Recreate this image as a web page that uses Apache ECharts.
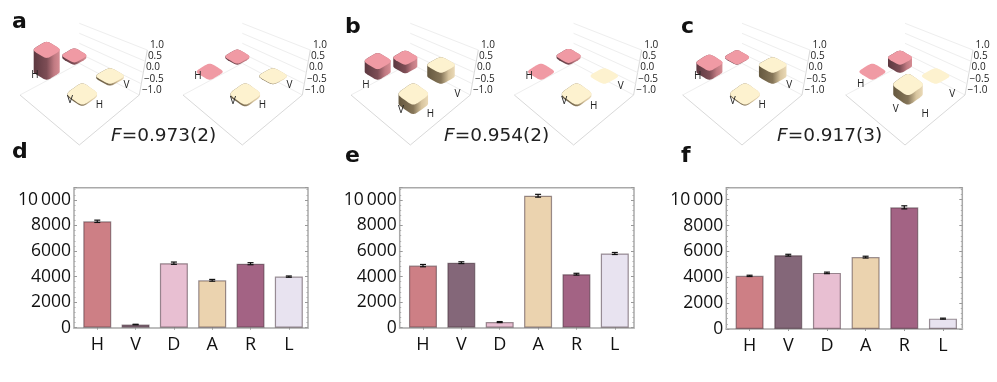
<!DOCTYPE html>
<html>
<head>
<meta charset="utf-8">
<style>
  html, body { margin: 0; background: #fff; }
  #chart { width: 997px; height: 382px; }
</style>
</head>
<body>
<div id="chart"></div>
<script src="https://cdn.jsdelivr.net/npm/echarts@6/dist/echarts.min.js"></script>
<script>
const basis = ['H', 'V', 'D', 'A', 'R', 'L']
const basisColors = ['#cd7f85', '#846779', '#e8bfd2', '#ebd3af', '#a36384', '#e8e3f0']

// measured counts, one list per bar panel
const countsD = [8330, 250, 5050, 3710, 5010, 4000]
const errorsD = [90, 20, 90, 70, 80, 50]
const countsE = [4860, 5090, 440, 10330, 4190, 5810]
const errorsE = [90, 70, 40, 110, 70, 80]
const countsF = [4110, 5710, 4340, 5560, 9410, 800]
const errorsF = [50, 70, 60, 70, 120, 40]

// density matrix elements, drawn back to front: HV, HH, VH, VV
const rhoReA = [0.1, 0.97, -0.08, -0.06]
const rhoImA = [0.05, 0, -0.02, -0.08]
const rhoReB = [-0.38, 0.47, 0.49, -0.42]
const rhoImB = [0.08, 0, 0, -0.08]
const rhoReC = [0.02, 0.4, 0.49, -0.05]
const rhoImC = [-0.36, 0, 0, 0.42]

const fidelities = ['0.973(2)', '0.954(2)', '0.917(3)']
const zTicks = [1, 0.5, 0, -0.5, -1]

const tickFont = '"Open Sans", sans-serif'

// 3d panels: all share one floor shape, shifted sideways by dx
const floor = { left: [20, 95], front: [79.3, 145], right: [139.3, 95], back: [79.3, 63.3] }
const cellCentres = [[74.3, 57.7], [46.7, 71.7], [110, 76], [82.3, 94]] // at z = 0, same order as rho lists
const cellSizes = [[24, 14], [26, 16], [27.5, 15.5], [29.5, 21]]
const cellLabels = [['H', 35, 76], ['V', 126.5, 85.5], ['V', 70, 101], ['H', 99.5, 105.5]]
const panels3d = [
  { dx: 0, rho: rhoReA, drop: -0.5 },
  { dx: 163, rho: rhoImA, drop: 0 },
  { dx: 331, rho: rhoReB, drop: 9 },
  { dx: 494.3, rho: rhoImB, drop: 0.5 },
  { dx: 662.7, rho: rhoReC, drop: 0 },
  { dx: 825.7, rho: rhoImC, drop: 8.5 }
]
const pinkSide = ['#5c3840', '#7d4d55', '#c07a82', '#d68c93']
const creamSide = ['#65583f', '#857558', '#d8c59f', '#ead9b6']

// rounded rhombus around the cell centre, lifted by z
function roundedTop (cell, dx, lift) {
  const pts = []
  const wx = cellSizes[cell][0] / 2 / 1.74
  const wy = cellSizes[cell][1] / 2 / 1.74
  for (let i = 0; i < 64; i++) {
    const a = i / 64 * Math.PI * 2
    const c = Math.cos(a)
    const n = Math.sin(a)
    const u = Math.sign(c) * Math.pow(Math.abs(c), 0.4)
    const v = Math.sign(n) * Math.pow(Math.abs(n), 0.4)
    pts.push([cellCentres[cell][0] + dx + (u - v) * wx, cellCentres[cell][1] - lift + (u + v) * wy])
  }
  return pts
}

function hull (points) {
  const pts = points.slice().sort((a, b) => a[0] - b[0] || a[1] - b[1])
  const half = list => {
    const out = []
    list.forEach(p => {
      while (out.length > 1) {
        const a = out[out.length - 2]
        const b = out[out.length - 1]
        if ((b[0] - a[0]) * (p[1] - a[1]) - (b[1] - a[1]) * (p[0] - a[0]) > 0) break
        out.pop()
      }
      out.push(p)
    })
    out.pop()
    return out
  }
  return half(pts).concat(half(pts.slice().reverse()))
}

function sideFill (colors) {
  return {
    type: 'linear', x: 0, y: 0, x2: 1, y2: 0,
    colorStops: [
      { offset: 0, color: colors[0] },
      { offset: 0.5, color: colors[1] },
      { offset: 0.78, color: colors[2] },
      { offset: 1, color: colors[3] }
    ]
  }
}

function panelSeries (panel, gridIndex) {
  const dx = panel.dx
  const shift = p => [p[0] + dx, p[1]]
  const frame = {
    type: 'custom',
    xAxisIndex: gridIndex,
    yAxisIndex: gridIndex,
    silent: true,
    clip: false,
    data: zTicks,
    renderItem (params, api) {
      const z = api.value(1)
      const y = api.coord([0, z])[1]
      const x = floor.right[0] + (z + 1) * 4 + dx
      const backY = floor.back[1] - (z + 1) * 20
      const children = []
      if (params.dataIndex === 0) {
        const top = api.coord([0, 1])[1]
        children.push({
          type: 'polyline',
          shape: { points: [shift(floor.left), shift(floor.back), shift(floor.right)] },
          style: { stroke: '#eeeeee', lineWidth: 1, fill: null }
        }, {
          type: 'polyline',
          shape: { points: [shift(floor.left), shift(floor.front), shift(floor.right), [floor.right[0] + 8 + dx, top]] },
          style: { stroke: '#d9d9d9', lineWidth: 1, fill: null }
        })
      }
      if (z > -1) {
        children.push({
          type: 'line',
          shape: { x1: floor.back[0] + dx, y1: backY, x2: x, y2: y },
          style: { stroke: '#eeeeee', lineWidth: 1 }
        })
      }
      children.push({
        type: 'text',
        style: {
          x: x + 2.6,
          y: y - 5,
          text: z.toFixed(1).replace('-', '\u2212'),
          font: '10px ' + tickFont,
          fill: '#222',
          align: 'left',
          verticalAlign: 'middle'
        }
      })
      return { type: 'group', children }
    }
  }
  const bars = {
    type: 'custom',
    xAxisIndex: gridIndex,
    yAxisIndex: gridIndex,
    silent: true,
    clip: false,
    data: panel.rho,
    renderItem (params, api) {
      const cell = params.dataIndex
      const z = api.value(1)
      const unit = api.coord([0, 0])[1] - api.coord([0, 1])[1]
      const pink = cell < 2
      const topPts = roundedTop(cell, dx, Math.max(z, 0) * unit)
      const lowPts = roundedTop(cell, dx, Math.min(z, 0) * unit)
      const children = []
      if (z !== 0) {
        children.push({
          type: 'polygon',
          shape: { points: hull(topPts.concat(lowPts)) },
          style: { fill: sideFill(pink ? pinkSide : creamSide) }
        })
      }
      children.push({
        type: 'polygon',
        shape: { points: topPts },
        style: { fill: pink ? '#f09aa4' : '#fdf2cf' }
      })
      return { type: 'group', children }
    }
  }
  const labels = {
    type: 'custom',
    xAxisIndex: gridIndex,
    yAxisIndex: gridIndex,
    silent: true,
    clip: false,
    data: cellLabels.map(d => d[0]),
    renderItem (params) {
      const item = cellLabels[params.dataIndex]
      return {
        type: 'text',
        style: {
          x: item[1] + dx,
          y: item[2] + panel.drop,
          text: item[0],
          font: '10px ' + tickFont,
          fill: '#222',
          align: 'center',
          verticalAlign: 'middle'
        }
      }
    }
  }
  return [frame, bars, labels]
}

function barSeries (counts, errors, axisIndex) {
  return [{
    type: 'bar',
    xAxisIndex: axisIndex,
    yAxisIndex: axisIndex,
    barWidth: 28,
    silent: true,
    data: counts.map((v, i) => ({
      value: [i + 1, v],
      itemStyle: { color: basisColors[i], borderColor: 'rgba(60,40,50,0.5)', borderWidth: 1.2 }
    }))
  }, {
    type: 'custom',
    xAxisIndex: axisIndex,
    yAxisIndex: axisIndex,
    silent: true,
    z: 5,
    data: counts.map((v, i) => [i + 1, v, errors[i]]),
    renderItem (params, api) {
      const x = api.value(0)
      const v = api.value(1)
      const e = api.value(2)
      const hi = api.coord([x, v + e])
      const lo = api.coord([x, v - e])
      const style = { stroke: '#111', lineWidth: 1.2 }
      return {
        type: 'group',
        children: [
          { type: 'line', shape: { x1: hi[0], y1: hi[1], x2: lo[0], y2: lo[1] }, style },
          { type: 'line', shape: { x1: hi[0] - 3, y1: hi[1], x2: hi[0] + 3, y2: hi[1] }, style },
          { type: 'line', shape: { x1: lo[0] - 3, y1: lo[1], x2: lo[0] + 3, y2: lo[1] }, style }
        ]
      }
    }
  }]
}

const grids = []
const xAxes = []
const yAxes = []
const seriesList = []

panels3d.forEach((panel, i) => {
  grids.push({ left: panel.dx + 20, width: 120, top: 50, height: 45 })
  xAxes.push({ gridIndex: i, type: 'value', min: 0, max: 1, show: false })
  yAxes.push({ gridIndex: i, type: 'value', min: -1, max: 1, show: false })
  seriesList.push(...panelSeries(panel, i))
})

// bar panels, each grid also carries a mirror axis pair for the ticks on the top and right
const barPanels = [
  { left: 74, width: 234, top: 187.7, height: 140, yMax: 10960, counts: countsD, errors: errorsD },
  { left: 399.7, width: 234.3, top: 187.7, height: 140, yMax: 10960, counts: countsE, errors: errorsE },
  { left: 726.3, width: 236, top: 187.7, height: 141.3, yMax: 10930, counts: countsF, errors: errorsF }
]
const centres = basis.map((_, i) => i + 1)

barPanels.forEach(p => {
  const gridIndex = grids.length
  grids.push({
    left: p.left, width: p.width, top: p.top, height: p.height,
    show: true, borderColor: '#a9a9a9', borderWidth: 1.5, backgroundColor: '#fff'
  })
  const axisIndex = xAxes.length
  const xRange = { min: 1 - 23.3 / (p.width / 6.1), max: 6.5 }
  const xCommon = { gridIndex, type: 'value', ...xRange, splitLine: { show: false } }
  xAxes.push({
    ...xCommon,
    position: 'bottom',
    axisLine: { show: true, onZero: false, lineStyle: { color: '#bdbdbd', width: 2 } },
    axisTick: { show: false },
    axisLabel: {
      customValues: centres,
      formatter: v => basis[v - 1],
      margin: 8,
      fontFamily: tickFont,
      fontSize: 18,
      color: '#111'
    }
  }, {
    ...xCommon,
    position: 'top',
    axisLine: { show: false },
    axisTick: { show: true, customValues: centres, inside: true, length: 2, lineStyle: { color: '#999' } },
    axisLabel: { show: false }
  })
  const yCommon = {
    gridIndex,
    type: 'value',
    min: 0,
    max: p.yMax,
    interval: 2000,
    splitLine: { show: false },
    axisLine: { show: false },
    axisTick: { show: true, inside: true, length: 3, lineStyle: { color: '#999' } },
    minorTick: { show: true, splitNumber: 5, length: 1.5, lineStyle: { color: '#aaa' } }
  }
  yAxes.push({
    ...yCommon,
    position: 'left',
    axisLabel: {
      showMaxLabel: false,
      margin: 3,
      fontFamily: tickFont,
      fontSize: 17.5,
      color: '#111',
      formatter: v => (v === 10000 ? '10\u2009000' : String(v))
    }
  }, {
    ...yCommon,
    position: 'right',
    axisLabel: { show: false }
  })
  seriesList.push(...barSeries(p.counts, p.errors, axisIndex))
})

const panelLetters = [
  ['a', 12, 11], ['b', 345, 16], ['c', 681, 16],
  ['d', 12, 141], ['e', 345, 145], ['f', 681, 145]
]
const fidelityLeft = [111, 444, 777]

const titles = panelLetters.map(d => ({
  text: d[0],
  left: d[1],
  top: d[2],
  padding: 0,
  textStyle: { fontFamily: '"DejaVu Sans"', fontWeight: 'bold', fontSize: 22, color: '#111' }
})).concat(fidelities.map((f, i) => ({
  text: '{i|F}{n|=' + f + '}',
  left: fidelityLeft[i],
  top: 127,
  padding: 0,
  textStyle: {
    fontWeight: 'normal',
    rich: {
      i: { fontFamily: '"DejaVu Sans"', fontStyle: 'italic', fontWeight: 'normal', fontSize: 18.5, color: '#222' },
      n: { fontFamily: '"DejaVu Sans"', fontWeight: 'normal', fontSize: 18.5, color: '#222' }
    }
  }
})))

const chart = echarts.init(document.getElementById('chart'), null, { renderer: 'canvas' })
chart.setOption({
  animation: false,
  backgroundColor: '#fff',
  title: titles,
  grid: grids,
  xAxis: xAxes,
  yAxis: yAxes,
  series: seriesList
})
</script>
</body>
</html>
